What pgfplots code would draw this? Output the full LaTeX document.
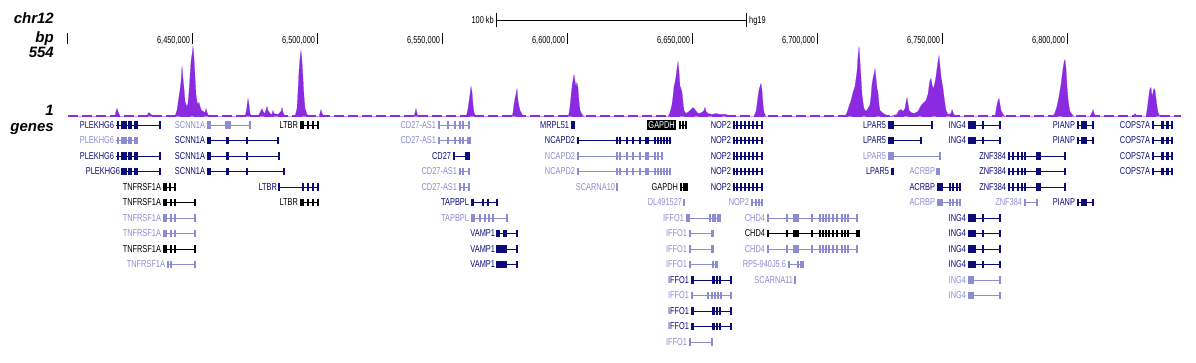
\documentclass[border=0pt]{standalone}
\usepackage{fontspec}
\setmainfont{Liberation Sans}
\newfontfamily\narrow{Liberation Sans}[FakeStretch=0.74]
\usepackage{pgfplots}
\usepackage{pgfplotstable}
\pgfplotsset{compat=1.18}
\definecolor{sig}{RGB}{138,43,226}
\definecolor{navy}{RGB}{12,12,120}
\definecolor{lav}{RGB}{140,140,210}
\newcommand{\gf}{\narrow\fontsize{10}{10}\selectfont}
\newcommand{\tf}{\narrow\fontsize{10}{10}\selectfont}
\newcommand{\lbf}{\fontsize{15}{15}\selectfont\bfseries\itshape}

% gene: colour, row, start (kb), end (kb), exon positions (kb), name
\newcommand{\gene}[6]{%
 \addplot[#1, line width=0.7pt] coordinates {(#3,#2) (#4,#2)};
 \addplot[#1, only marks, mark=|, mark size=3.8pt, mark options={line width=1.4pt}] table[row sep=\\, x=x, y expr=#2] {x\\ #5};
 \node[anchor=east, text=#1, font=\gf, inner sep=0pt, xshift=-1.8pt] at (axis cs:#3,#2) {#6};
}
\newcommand{\NOPtwo}[1]{\gene{navy}{#1}{6666.4}{6678.4}{6666.8\\6668.0\\6669.6\\6671.2\\6672.8\\6674.4\\6676.0\\6678.0\\}{NOP2}}
\newcommand{\INGfour}[2]{\gene{#2}{#1}{6760.4}{6773.2}{6760.8\\6761.6\\6762.4\\6763.2\\6766.4\\6773.2\\}{ING4}}
\newcommand{\PIANP}[1]{\gene{navy}{#1}{6804.0}{6810.4}{6804.4\\6806.0\\6806.8\\6807.6\\6810.4\\}{PIANP}}
\newcommand{\COPS}[1]{\gene{navy}{#1}{6834.0}{6842.0}{6834.4\\6838.0\\6838.4\\6840.0\\6840.4\\6842.0\\}{COPS7A}}
\newcommand{\ZNF}[1]{\gene{navy}{#1}{6776.4}{6799.2}{6776.8\\6778.4\\6780.4\\6782.0\\6783.2\\6788.0\\6788.4\\6789.2\\6799.2\\}{ZNF384}}
\newcommand{\CHD}[2]{\gene{#2}{#1}{6680.0}{6716.0}{6680.4\\6688.0\\6690.8\\6691.6\\6692.4\\6698.0\\6701.2\\6702.4\\6703.6\\6704.8\\6706.4\\6708.0\\6710.0\\6711.2\\6712.4\\6716.0\\}{CHD4}}
\newcommand{\TNF}[2]{\gene{#2}{#1}{6438.4}{6451.2}{6438.8\\6439.6\\6441.6\\6443.2\\6451.2\\}{TNFRSF1A}}
\newcommand{\IFFOl}[2]{\gene{#2}{#1}{6649.6}{6666.0}{6650.0\\6650.4\\6658.4\\6658.8\\6660.0\\6661.2\\6665.6\\}{IFFO1}}
\newcommand{\IFFOs}[1]{\gene{lav}{#1}{6648.8}{6658.4}{6649.2\\6658.0\\6658.4\\}{IFFO1}}
\newcommand{\PLEK}[1]{\gene{navy}{#1}{6419.6}{6437.2}{6420.4\\6422.0\\6422.8\\6423.6\\6424.8\\6425.6\\6427.2\\6428.0\\6437.2\\}{PLEKHG6}}
\newcommand{\SCNN}[2]{\gene{navy}{#1}{6456.0}{#2}{6456.4\\6457.2\\6464.0\\6464.4\\6472.0\\#2\\}{SCNN1A}}
\newcommand{\NCAP}[2]{\gene{#1}{#2}{6604.0}{6641.6}{6604.4\\6620.0\\6621.2\\6624.0\\6626.4\\6629.2\\6631.6\\6632.4\\6635.2\\6636.4\\6637.6\\6638.8\\6640.0\\6641.2\\}{NCAPD2}}
\newcommand{\vtick}[3]{\addplot[black, line width=0.6pt] coordinates {(#1,#2) (#1,#3)};}

\pgfplotstableread{
pos val
6400.4 0
6419.2 0
6419.6 39
6420.0 62
6420.4 39
6421.2 0
6432.0 0
6432.4 23
6432.8 31
6433.6 16
6434.8 0
6443.2 0
6444.0 47
6444.8 155
6445.2 202
6445.6 271
6446.0 388
6446.4 295
6446.8 217
6447.2 116
6447.6 93
6448.0 78
6448.4 101
6448.8 194
6449.2 310
6449.6 426
6450.0 481
6450.4 543
6450.8 450
6451.2 310
6451.6 171
6452.0 116
6452.4 93
6452.8 109
6453.2 78
6453.6 54
6454.4 39
6455.2 31
6455.6 62
6456.0 31
6456.8 0
6471.2 0
6471.6 31
6472.0 78
6472.4 140
6472.8 93
6473.2 23
6474.0 0
6476.4 0
6477.2 31
6478.0 62
6478.4 39
6479.2 23
6480.0 78
6480.4 47
6481.2 23
6482.0 16
6482.4 47
6482.8 23
6484.4 16
6485.6 39
6486.0 70
6486.4 31
6487.2 0
6491.2 0
6492.0 62
6492.4 194
6492.8 349
6493.2 450
6493.6 512
6494.0 426
6494.4 295
6494.8 155
6495.2 62
6496.0 16
6497.2 0
6500.8 0
6501.6 54
6502.0 23
6502.8 0
6538.8 0
6539.2 31
6539.6 62
6540.0 23
6540.4 0
6559.6 0
6560.0 23
6560.4 62
6560.8 116
6561.2 171
6561.6 233
6562.0 186
6562.4 93
6562.8 31
6563.6 0
6578.0 0
6578.4 31
6578.8 93
6579.2 140
6579.6 171
6580.0 217
6580.4 124
6580.8 78
6581.2 47
6582.0 16
6582.8 0
6600.4 0
6600.8 23
6601.2 78
6601.6 155
6602.0 233
6602.4 279
6602.8 326
6603.2 271
6603.6 233
6604.0 264
6604.4 217
6604.8 116
6605.2 47
6606.0 16
6606.8 0
6640.4 0
6641.2 31
6642.0 93
6642.4 155
6642.8 233
6643.2 264
6643.6 310
6644.0 372
6644.4 426
6644.8 349
6645.2 233
6645.6 217
6646.0 186
6646.4 109
6646.8 47
6647.6 23
6648.8 39
6649.6 54
6650.4 70
6651.2 54
6652.0 31
6652.8 23
6654.0 31
6654.8 47
6655.2 70
6655.6 39
6656.4 23
6658.0 16
6659.6 23
6661.2 16
6663.6 16
6665.2 0
6674.8 0
6675.6 39
6676.0 93
6676.4 155
6676.8 202
6677.2 233
6677.6 256
6678.0 202
6678.4 93
6678.8 31
6679.6 0
6711.2 0
6712.0 31
6712.8 78
6713.6 124
6714.4 186
6715.2 233
6716.0 349
6716.4 465
6716.8 543
6717.2 426
6717.6 295
6718.0 171
6718.4 109
6718.8 62
6719.6 39
6720.4 62
6721.2 93
6721.6 155
6722.0 248
6722.4 295
6722.8 326
6723.2 372
6723.6 295
6724.0 217
6724.4 186
6724.8 93
6725.2 47
6726.0 31
6727.2 16
6729.2 0
6732.0 16
6732.8 47
6733.6 54
6734.4 39
6735.2 62
6735.6 109
6736.0 147
6736.4 101
6736.8 47
6737.6 31
6738.8 23
6740.4 39
6741.2 70
6742.0 93
6742.8 109
6743.6 124
6744.4 171
6744.8 233
6745.2 279
6745.6 295
6746.0 248
6746.4 217
6746.8 233
6747.2 264
6747.6 310
6748.0 372
6748.4 426
6748.8 473
6749.2 388
6749.6 310
6750.0 264
6750.4 217
6750.8 155
6751.2 93
6751.6 47
6752.4 16
6753.6 23
6754.0 54
6754.4 31
6755.2 0
6771.2 0
6771.6 47
6772.0 93
6772.4 124
6772.8 140
6773.2 93
6773.6 47
6774.4 16
6775.2 0
6794.4 0
6795.2 31
6796.0 78
6796.8 155
6797.6 248
6798.4 372
6798.8 419
6799.2 442
6799.6 372
6800.0 233
6800.4 140
6800.8 78
6801.2 39
6802.0 16
6802.8 0
6809.2 0
6810.0 31
6810.4 54
6810.8 23
6811.6 0
6826.4 0
6827.2 23
6828.0 0
6831.6 0
6832.0 47
6832.4 109
6832.8 171
6833.2 217
6833.6 225
6834.0 155
6834.4 186
6834.8 217
6835.2 202
6835.6 140
6836.0 78
6836.4 31
6837.2 0
6845.6 0
}\sigdata

\begin{document}
\begin{tikzpicture}
\path[use as bounding box] (0pt,0pt) rectangle (1196pt,-363pt);
% ---------- signal track, ruler and labels ----------
\begin{axis}[at={(0pt,-116.5pt)}, anchor=south west, scale only axis,
  width=1196pt, height=71.5pt, xmin=6373.2, xmax=6851.6, ymin=0, ymax=554,
  hide axis, clip=false]
 \addplot[fill=sig, draw=sig, line width=0.2pt] table[x=pos, y=val] {\sigdata} \closedcycle;
 \addplot[sig, line width=1.2pt, dash pattern=on 10pt off 4pt] coordinates {(6400.4,4) (6845.6,4)};
 % ruler
 \vtick{6400}{562}{647}
 \vtick{6450}{562}{647}
 \vtick{6500}{562}{647}
 \vtick{6550}{562}{647}
 \vtick{6600}{562}{647}
 \vtick{6650}{562}{647}
 \vtick{6700}{562}{647}
 \vtick{6750}{562}{647}
 \vtick{6800}{562}{647}
 \node[anchor=base east, font=\tf, inner sep=0pt, xshift=-1.8pt] at (axis cs:6450,569) {6,450,000};
 \node[anchor=base east, font=\tf, inner sep=0pt, xshift=-1.8pt] at (axis cs:6500,569) {6,500,000};
 \node[anchor=base east, font=\tf, inner sep=0pt, xshift=-1.8pt] at (axis cs:6550,569) {6,550,000};
 \node[anchor=base east, font=\tf, inner sep=0pt, xshift=-1.8pt] at (axis cs:6600,569) {6,600,000};
 \node[anchor=base east, font=\tf, inner sep=0pt, xshift=-1.8pt] at (axis cs:6650,569) {6,650,000};
 \node[anchor=base east, font=\tf, inner sep=0pt, xshift=-1.8pt] at (axis cs:6700,569) {6,700,000};
 \node[anchor=base east, font=\tf, inner sep=0pt, xshift=-1.8pt] at (axis cs:6750,569) {6,750,000};
 \node[anchor=base east, font=\tf, inner sep=0pt, xshift=-1.8pt] at (axis cs:6800,569) {6,800,000};
 % scale bar
 \addplot[black, line width=0.7pt] coordinates {(6571.6,748) (6671.6,748)};
 \vtick{6571.6}{693}{802}
 \vtick{6671.6}{693}{802}
 \node[anchor=base east, font=\tf, inner sep=0pt, xshift=-2pt] at (axis cs:6571.6,724) {100 kb};
 \node[anchor=base west, font=\tf, inner sep=0pt, xshift=3pt] at (axis cs:6671.6,724) {hg19};
 % left labels
 \node[anchor=base east, font=\lbf, inner sep=0pt] at (axis cs:6394.8,717) {chr12};
 \node[anchor=base east, font=\lbf, inner sep=0pt] at (axis cs:6394.8,577) {bp};
 \node[anchor=base east, font=\lbf, inner sep=0pt] at (axis cs:6394.8,461) {554};
 \node[anchor=base east, font=\lbf, inner sep=0pt] at (axis cs:6394.8,4) {1};
 \node[anchor=base east, font=\lbf, inner sep=0pt] at (axis cs:6394.8,-120) {genes};
\end{axis}
% ---------- gene track ----------
\begin{axis}[at={(0pt,-117.25pt)}, anchor=north west, scale only axis,
  width=1196pt, height=232.5pt, xmin=6373.2, xmax=6851.6, ymin=0.5, ymax=15.5,
  y dir=reverse, hide axis, clip=false]
 % row 1
 \PLEK{1}
 \gene{lav}{1}{6456.0}{6473.2}{6456.4\\6457.2\\6463.6\\6464.4\\6465.2\\6473.2\\}{SCNN1A}
 \gene{black}{1}{6493.2}{6500.8}{6493.6\\6494.4\\6496.4\\6498.4\\6500.4\\}{LTBR}
 \gene{lav}{1}{6548.4}{6561.2}{6548.8\\6552.4\\6555.2\\6557.2\\6558.4\\6560.8\\}{CD27-AS1}
 \gene{navy}{1}{6601.6}{6602.8}{6602.0\\6602.8\\}{MRPL51}
 \gene{black}{1}{6644.8}{6648.0}{6645.2\\6646.4\\6647.6\\}{}
 \node[anchor=east, fill=black, text=white, font=\gf, inner sep=1pt, xshift=-3pt] at (axis cs:6644.8,1) {GAPDH};
 \NOPtwo{1}
 \gene{navy}{1}{6728.4}{6746.0}{6728.8\\6729.6\\6730.4\\6746.0\\}{LPAR5}
 \INGfour{1}{navy}
 \PIANP{1}
 \COPS{1}
 % row 2
 \gene{lav}{2}{6419.6}{6428.4}{6420.4\\6422.0\\6422.8\\6423.6\\6424.8\\6425.6\\6427.2\\6428.0\\}{PLEKHG6}
 \SCNN{2}{6484.4}
 \gene{lav}{2}{6548.4}{6561.2}{6548.8\\6552.4\\6555.2\\6557.2\\6558.4\\6560.4\\6560.8\\6561.2\\}{CD27-AS1}
 \NCAP{navy}{2}
 \NOPtwo{2}
 \gene{navy}{2}{6728.4}{6741.6}{6728.8\\6729.6\\6730.4\\6741.6\\}{LPAR5}
 \INGfour{2}{navy}
 \PIANP{2}
 \COPS{2}
 % row 3
 \PLEK{3}
 \SCNN{3}{6484.8}
 \gene{navy}{3}{6554.4}{6560.8}{6554.8\\6559.6\\6560.4\\6560.8\\}{CD27}
 \gene{lav}{3}{6604.0}{6638.4}{6604.4\\6620.0\\6621.2\\6624.0\\6626.4\\6629.2\\6631.6\\6632.4\\6635.2\\6636.4\\6638.0\\}{NCAPD2}
 \NOPtwo{3}
 \gene{lav}{3}{6728.4}{6749.2}{6728.8\\6729.6\\6730.4\\6749.2\\}{LPAR5}
 \ZNF{3}
 \COPS{3}
 % row 4
 \gene{navy}{4}{6422.0}{6437.2}{6422.0\\6422.8\\6423.6\\6424.8\\6425.6\\6427.2\\6428.0\\6437.2\\}{PLEKHG6}
 \SCNN{4}{6486.8}
 \gene{lav}{4}{6556.8}{6561.2}{6557.2\\6558.4\\6560.8\\}{CD27-AS1}
 \NCAP{lav}{4}
 \NOPtwo{4}
 \gene{navy}{4}{6729.6}{6730.4}{6729.8\\6730.4\\}{LPAR5}
 \gene{lav}{4}{6748.0}{6748.8}{6748.0\\6748.8\\}{ACRBP}
 \ZNF{4}
 \COPS{4}
 % row 5
 \gene{black}{5}{6438.4}{6443.2}{6438.8\\6439.6\\6441.2\\6443.2\\}{TNFRSF1A}
 \gene{navy}{5}{6484.8}{6500.4}{6484.8\\6494.4\\6496.4\\6498.4\\6500.4\\}{LTBR}
 \gene{lav}{5}{6556.8}{6561.2}{6557.2\\6558.8\\6560.8\\}{CD27-AS1}
 \gene{lav}{5}{6620.0}{6620.0}{6620.0\\}{SCARNA10}
 \gene{black}{5}{6645.2}{6648.0}{6645.6\\6646.8\\6647.6\\6648.0\\}{GAPDH}
 \NOPtwo{5}
 \gene{navy}{5}{6748.0}{6757.6}{6748.4\\6749.2\\6750.0\\6753.2\\6754.4\\6756.0\\6757.2\\}{ACRBP}
 \ZNF{5}
 % row 6
 \TNF{6}{black}
 \gene{black}{6}{6493.2}{6500.8}{6493.6\\6494.4\\6496.4\\6498.4\\6500.4\\}{LTBR}
 \gene{navy}{6}{6561.6}{6572.0}{6562.0\\6562.4\\6566.4\\6568.4\\6572.0\\}{TAPBPL}
 \gene{lav}{6}{6646.8}{6646.8}{6646.8\\}{DL491527}
 \gene{lav}{6}{6673.6}{6678.0}{6674.0\\6675.6\\6676.8\\6678.0\\}{NOP2}
 \gene{lav}{6}{6748.0}{6757.6}{6748.4\\6749.2\\6750.0\\6753.2\\6754.4\\6756.0\\6757.2\\}{ACRBP}
 \gene{lav}{6}{6782.8}{6788.0}{6783.2\\6788.0\\}{ZNF384}
 \PIANP{6}
 % row 7
 \TNF{7}{lav}
 \gene{lav}{7}{6561.6}{6576.0}{6562.0\\6562.8\\6565.2\\6567.2\\6568.8\\6570.4\\6576.0\\}{TAPBPL}
 \gene{lav}{7}{6647.6}{6661.6}{6648.0\\6648.8\\6657.2\\6658.4\\6659.2\\6660.4\\6661.2\\}{IFFO1}
 \CHD{7}{lav}
 \INGfour{7}{navy}
 % row 8
 \TNF{8}{lav}
 \gene{navy}{8}{6572.0}{6580.0}{6572.0\\6572.8\\6574.8\\6575.6\\6580.0\\}{VAMP1}
 \IFFOs{8}
 \gene{black}{8}{6680.0}{6716.8}{6680.4\\6688.0\\6690.8\\6691.6\\6692.4\\6698.0\\6701.2\\6702.4\\6703.6\\6704.8\\6706.4\\6708.0\\6710.0\\6711.2\\6712.4\\6716.0\\6716.8\\}{CHD4}
 \INGfour{8}{navy}
 % row 9
 \TNF{9}{black}
 \gene{navy}{9}{6572.0}{6580.0}{6572.0\\6572.8\\6573.6\\6574.0\\6574.8\\6575.6\\6580.0\\}{VAMP1}
 \IFFOs{9}
 \CHD{9}{lav}
 \INGfour{9}{navy}
 % row 10
 \gene{lav}{10}{6440.0}{6451.2}{6440.4\\6441.6\\6451.2\\}{TNFRSF1A}
 \gene{navy}{10}{6572.0}{6580.0}{6572.0\\6572.8\\6573.6\\6574.0\\6574.8\\6575.6\\6580.0\\}{VAMP1}
 \gene{lav}{10}{6648.8}{6660.0}{6649.2\\6658.4\\6659.6\\6660.0\\}{IFFO1}
 \gene{lav}{10}{6688.4}{6694.4}{6688.8\\6692.4\\6693.6\\6694.0\\6694.4\\}{RP5-940J5.6}
 \INGfour{10}{navy}
 % row 11
 \IFFOl{11}{navy}
 \gene{lav}{11}{6691.2}{6691.2}{6691.2\\}{SCARNA11}
 \gene{lav}{11}{6760.4}{6773.2}{6760.8\\6761.6\\6762.4\\6773.2\\}{ING4}
 % row 12
 \gene{lav}{12}{6649.6}{6666.0}{6650.0\\6656.4\\6658.0\\6659.2\\6660.4\\6661.6\\6665.6\\}{IFFO1}
 \gene{lav}{12}{6760.4}{6773.2}{6760.8\\6761.6\\6762.4\\6773.2\\}{ING4}
 % rows 13-15
 \IFFOl{13}{navy}
 \IFFOl{14}{navy}
 \gene{lav}{15}{6648.8}{6658.4}{6649.2\\6658.0\\}{IFFO1}
\end{axis}
\end{tikzpicture}
\end{document}
